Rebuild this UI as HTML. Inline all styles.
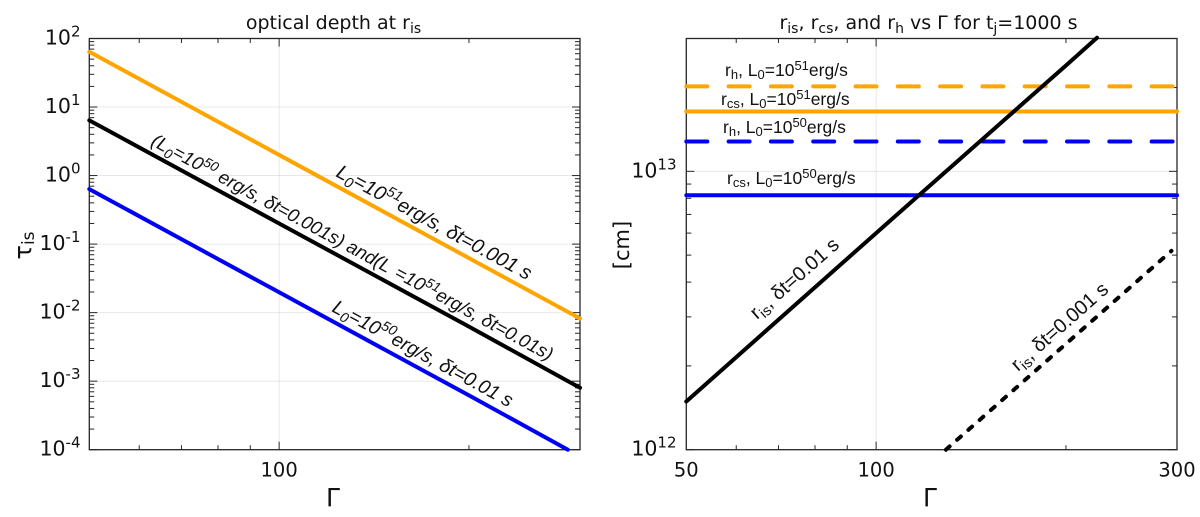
<!DOCTYPE html>
<html>
<head>
<meta charset="utf-8">
<title>Optical depth and radii vs Gamma</title>
<style>
html,body{margin:0;padding:0;background:#fff;}
svg{display:block;}
text{fill:#111;}
.dv{font-family:"DejaVu Sans",sans-serif;}
.ls{font-family:"Liberation Sans",sans-serif;}
</style>
</head>
<body>
<svg id="figure" width="1200" height="517" viewBox="0 0 1200 517" xmlns="http://www.w3.org/2000/svg">
  <g id="left-chart"></g>
  <g id="right-chart"></g>

  <text class="dv" x="333.5" y="29" font-size="19" text-anchor="middle">optical depth at r<tspan font-size="14" dy="4">is</tspan></text>
  <text class="dv" x="928.5" y="29" font-size="19" text-anchor="middle">r<tspan font-size="14" dy="4">is</tspan><tspan dy="-4">, r</tspan><tspan font-size="14" dy="4">cs</tspan><tspan dy="-4">, and r</tspan><tspan font-size="14" dy="4">h</tspan><tspan dy="-4"> vs Γ for t</tspan><tspan font-size="14" dy="4">j</tspan><tspan dy="-4">=1000 s</tspan></text>

  <text class="dv" font-size="24" transform="translate(31,259.5) rotate(-90)">τ<tspan font-size="17" dy="3">is</tspan></text>
  <text class="dv" font-size="21" text-anchor="middle" transform="translate(629,245) rotate(-90)">[cm]</text>
  <text class="dv" x="333" y="506" font-size="25" text-anchor="middle">Γ</text>
  <text class="dv" x="930" y="506" font-size="25" text-anchor="middle">Γ</text>

  <g class="ls" font-style="italic">
    <text font-size="20" transform="translate(335,176) rotate(28.5)">L<tspan font-size="14.5" dy="4">0</tspan><tspan dy="-4">=10</tspan><tspan font-size="14.5" dy="-8">51</tspan><tspan dy="8">erg/s, δt=0.001 s</tspan></text>
    <text font-size="18.7" transform="translate(150,144.5) rotate(28.5)">(L<tspan font-size="13.5" dy="4">0</tspan><tspan dy="-4">=10</tspan><tspan font-size="13.5" dy="-7">50</tspan><tspan dy="7"> erg/s, δt=0.001s) and(L</tspan><tspan dx="7">=10</tspan><tspan font-size="13.5" dy="-7">51</tspan><tspan dy="7">erg/s, δt=0.01s)</tspan></text>
    <text font-size="19.5" transform="translate(331,311) rotate(28.5)">L<tspan font-size="14" dy="4">0</tspan><tspan dy="-4">=10</tspan><tspan font-size="14" dy="-8">50</tspan><tspan dy="8">erg/s, δt=0.01 s</tspan></text>
  </g>

  <g class="ls" font-size="17.5">
    <text x="725" y="76">r<tspan font-size="13" dy="3">h</tspan><tspan dy="-3">, L</tspan><tspan font-size="13" dy="3">0</tspan><tspan dy="-3">=10</tspan><tspan font-size="13" dy="-6">51</tspan><tspan dy="6">erg/s</tspan></text>
    <text x="721" y="105">r<tspan font-size="13" dy="3">cs</tspan><tspan dy="-3">, L</tspan><tspan font-size="13" dy="3">0</tspan><tspan dy="-3">=10</tspan><tspan font-size="13" dy="-6">51</tspan><tspan dy="6">erg/s</tspan></text>
    <text x="723" y="133">r<tspan font-size="13" dy="3">h</tspan><tspan dy="-3">, L</tspan><tspan font-size="13" dy="3">0</tspan><tspan dy="-3">=10</tspan><tspan font-size="13" dy="-6">50</tspan><tspan dy="6">erg/s</tspan></text>
    <text x="727" y="184">r<tspan font-size="13" dy="3">cs</tspan><tspan dy="-3">, L</tspan><tspan font-size="13" dy="3">0</tspan><tspan dy="-3">=10</tspan><tspan font-size="13" dy="-6">50</tspan><tspan dy="6">erg/s</tspan></text>
    <text font-size="20" transform="translate(757,320) rotate(-41.4)">r<tspan font-size="14.5" dy="4">is</tspan><tspan dy="-4">, δt=0.01 s</tspan></text>
    <text font-size="20" transform="translate(1018,372) rotate(-41.4)">r<tspan font-size="14.5" dy="4">is</tspan><tspan dy="-4">, δt=0.001 s</tspan></text>
  </g>
</svg>

<script>
// Left chart data: Lorentz factor vs optical depth
const leftGamma = [50, 100, 200, 300];
const leftTauOrange = [64, 2, 0.0625, 0.0082];
const leftTauBlack = [6.4, 0.2, 0.00625, 0.0008];
const leftGammaBlue = [50, 100, 200, 287];
const leftTauBlue = [0.635, 0.0198, 0.00062, 0.0001];
const leftYTickExponents = [2, 1, 0, -1, -2, -3, -4];
const leftXTickLabels = [100];

// Right chart data: Lorentz factor vs radius in cm
const rightGammaRange = [50, 300];
const rhHigh = [2.02e13, 2.02e13];
const rcsHigh = [1.64e13, 1.64e13];
const rhLow = [1.28e13, 1.28e13];
const rcsLow = [8.2e12, 8.2e12];
const risSolidGamma = [50, 100, 200, 224];
const risSolid = [1.49e12, 6e12, 2.4e13, 3.02e13];
const risDashedGamma = [129, 200, 294];
const risDashed = [1e12, 2.4e12, 5.18e12];
const rightYTickExponents = [13, 12];
const rightXTickLabels = [50, 100, 300];

const NS = 'http://www.w3.org/2000/svg';
const FRAME_COLOR = '#262626';

function makeAxes(left, right, top, bottom, xMin, xMax, yMin, yMax) {
  return {
    left: left, right: right, top: top, bottom: bottom, yMin: yMin, yMax: yMax, xMin: xMin, xMax: xMax,
    x: function (v) { return left + (Math.log10(v) - Math.log10(xMin)) / (Math.log10(xMax) - Math.log10(xMin)) * (right - left); },
    y: function (v) { return bottom - (Math.log10(v) - Math.log10(yMin)) / (Math.log10(yMax) - Math.log10(yMin)) * (bottom - top); }
  };
}

function addSegment(parent, x1, y1, x2, y2, color, width, dash) {
  const seg = document.createElementNS(NS, 'line');
  
  
  seg.setAttribute('x1', x1);
  seg.setAttribute('y1', y1);
  seg.setAttribute('x2', x2);
  seg.setAttribute('y2', y2);
  seg.setAttribute('stroke', color);
  seg.setAttribute('stroke-width', width);
  if (dash) seg.setAttribute('stroke-dasharray', dash);
  parent.appendChild(seg);
}

function addSeries(parent, axes, xs, ys, name, color, dash, width) {
  const path = document.createElementNS(NS, 'polyline');
  
  
  path.setAttribute('points', xs.map(function (v, i) { return axes.x(v).toFixed(2) + ',' + axes.y(ys[i]).toFixed(2); }).join(' '));
  path.setAttribute('fill', 'none');
  path.setAttribute('stroke', color);
  path.setAttribute('stroke-width', width);
  path.setAttribute('stroke-linecap', 'round');
  path.setAttribute('stroke-linejoin', 'round');
  if (dash) path.setAttribute('stroke-dasharray', dash);
  parent.appendChild(path);
}

function addDecadeLabel(parent, x, y, exponent) {
  const label = document.createElementNS(NS, 'text');
  
  
  label.setAttribute('class', 'dv');
  label.setAttribute('x', x);
  label.setAttribute('y', y);
  label.setAttribute('font-size', '20.5');
  label.setAttribute('text-anchor', 'end');
  label.textContent = '10';
  const sup = document.createElementNS(NS, 'tspan');
  sup.setAttribute('font-size', '15');
  sup.setAttribute('dy', '-8');
  sup.textContent = String(exponent);
  label.appendChild(sup);
  parent.appendChild(label);
}

function addXLabel(parent, x, y, value) {
  const label = document.createElementNS(NS, 'text');
  
  
  label.setAttribute('class', 'dv');
  label.setAttribute('x', x);
  label.setAttribute('y', y);
  label.setAttribute('font-size', '19.5');
  label.setAttribute('text-anchor', 'middle');
  label.textContent = String(value);
  parent.appendChild(label);
}

function drawFrame(parent, axes, gridXs, gridExps) {
  gridXs.forEach(function (g) {
    addSegment(parent, axes.x(g), axes.top, axes.x(g), axes.bottom, '#c8c8c8', 0.8, '1 1');
  });
  gridExps.forEach(function (e) {
    const y = axes.y(Math.pow(10, e));
    addSegment(parent, axes.left, y, axes.right, y, '#c8c8c8', 0.8, '1 1');
  });
  // x ticks, both edges
  [60, 70, 80, 90, 100, 200].forEach(function (g) {
    const x = axes.x(g);
    const len = (g === 100) ? 8 : 4.5;
    addSegment(parent, x, axes.bottom, x, axes.bottom - len, FRAME_COLOR, 1);
    addSegment(parent, x, axes.top, x, axes.top + len, FRAME_COLOR, 1);
  });
  // y ticks, both edges
  const lowExp = Math.round(Math.log10(axes.yMin));
  const highExp = Math.ceil(Math.log10(axes.yMax));
  for (let e = lowExp; e <= highExp; e++) {
    for (let m = 1; m <= 9; m++) {
      const v = m * Math.pow(10, e);
      if (v < axes.yMin || v > axes.yMax * 1.001) continue;
      const y = axes.y(v);
      const len = (m === 1) ? 8 : 5;
      addSegment(parent, axes.left, y, axes.left + len, y, FRAME_COLOR, 1);
      addSegment(parent, axes.right, y, axes.right - len, y, FRAME_COLOR, 1);
    }
  }
  const box = document.createElementNS(NS, 'rect');
  
  
  box.setAttribute('x', axes.left);
  box.setAttribute('y', axes.top);
  box.setAttribute('width', axes.right - axes.left);
  box.setAttribute('height', axes.bottom - axes.top);
  box.setAttribute('fill', 'none');
  box.setAttribute('stroke', FRAME_COLOR);
  box.setAttribute('stroke-width', '1.3');
  parent.appendChild(box);
}

// Left chart
const leftGroup = document.getElementById('left-chart');
const leftAxes = makeAxes(89.3, 580, 38.5, 449.7, 50, 300, 1e-4, 1e2);
drawFrame(leftGroup, leftAxes, [100], [1, 0, -1, -2, -3]);
addSeries(leftGroup, leftAxes, leftGamma, leftTauOrange, 'tau-orange-line', '#ffa500', null, 4);
addSeries(leftGroup, leftAxes, leftGamma, leftTauBlack, 'tau-black-line', '#000000', null, 4);
addSeries(leftGroup, leftAxes, leftGammaBlue, leftTauBlue, 'tau-blue-line', '#0000f5', null, 4);
leftYTickExponents.forEach(function (e) {
  addDecadeLabel(leftGroup, 80.5, leftAxes.y(Math.pow(10, e)) + 6, e);
});
leftXTickLabels.forEach(function (g) {
  addXLabel(leftGroup, leftAxes.x(g), 476.7, g);
});

// Right chart
const rightGroup = document.getElementById('right-chart');
const rightAxes = makeAxes(686.3, 1177, 38.5, 449.7, 50, 300, 1e12, 3e13);
drawFrame(rightGroup, rightAxes, [100], [13]);
addSeries(rightGroup, rightAxes, rightGammaRange, rhHigh, 'rh-high-line', '#ffa500', '21 21.3', 4);
addSeries(rightGroup, rightAxes, rightGammaRange, rcsHigh, 'rcs-high-line', '#ffa500', null, 4);
addSeries(rightGroup, rightAxes, rightGammaRange, rhLow, 'rh-low-line', '#0000f5', '21 21.3', 4);
addSeries(rightGroup, rightAxes, rightGammaRange, rcsLow, 'rcs-low-line', '#0000f5', null, 4);
addSeries(rightGroup, rightAxes, risSolidGamma, risSolid, 'ris-solid-line', '#000000', null, 4);
addSeries(rightGroup, rightAxes, risDashedGamma, risDashed, 'ris-dashed-line', '#000000', '5 10', 4);
rightYTickExponents.forEach(function (e) {
  addDecadeLabel(rightGroup, 676.5, rightAxes.y(Math.pow(10, e)) + 6, e);
});
rightXTickLabels.forEach(function (g) {
  addXLabel(rightGroup, rightAxes.x(g), 476.7, g);
});
</script>
</body>
</html>
